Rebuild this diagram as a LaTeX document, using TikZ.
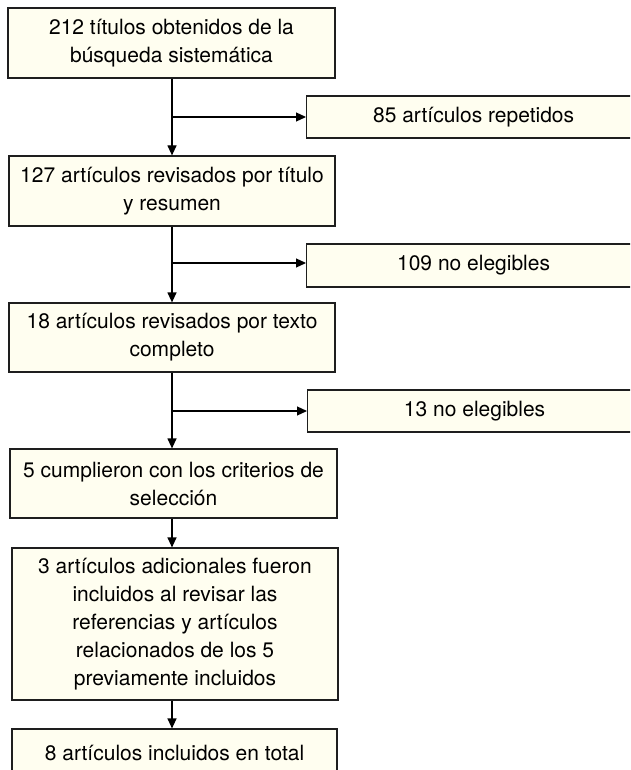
\documentclass[tikz,border=0pt]{standalone}
\usepackage{fontspec}
\setmainfont{TeX Gyre Heros}
\usetikzlibrary{arrows.meta}
\definecolor{boxfill}{RGB}{255,254,240}
\definecolor{boxline}{RGB}{30,30,30}
\begin{document}
\begin{tikzpicture}[x=1pt,y=-1pt,
  box/.style={draw=boxline,fill=boxfill,line width=1.2pt,align=center,inner sep=0pt,
    font=\fontsize{21}{28}\selectfont},
  arr/.style={line width=1.2pt,draw=black,-{Triangle[length=10pt,width=9pt]}},
  ln/.style={line width=1.2pt,draw=black}]
\useasboundingbox (0,0) rectangle (630,770);
\clip (0,0) rectangle (630,770);
\fill[white] (0,0) rectangle (630,770);
\node[box,minimum width=327pt,minimum height=70pt] (b1) at (171.5,43) {212 títulos obtenidos de la\\búsqueda sistemática};
\node[box,minimum width=334pt,minimum height=42pt,anchor=west] (r1) at (306,117) {85 artículos repetidos};
\node[box,minimum width=326pt,minimum height=70pt] (b2) at (172,191) {127 artículos revisados por título\\y resumen};
\node[box,minimum width=334pt,minimum height=43pt,anchor=west] (r2) at (306,265.5) {109 no elegibles};
\node[box,minimum width=334pt,minimum height=42pt,anchor=west] (r3) at (307,411) {13 no elegibles};
\node[box,minimum width=326pt,minimum height=69pt] (b3) at (172,337.5) {18 artículos revisados por texto\\completo};
\node[box,minimum width=327pt,minimum height=69pt] (b4) at (173.5,483.5) {5 cumplieron con los criterios de\\selección};
\node[box,minimum width=326pt,minimum height=152pt] (b5) at (175,624) {3 artículos adicionales fueron\\incluidos al revisar las\\referencias y artículos\\relacionados de los 5\\previamente incluidos};
\node[box,minimum width=325pt,minimum height=48pt] (b6) at (174.5,753) {8 artículos incluidos en total};
\coordinate (j1) at (172,117);
\coordinate (j2) at (172,263);
\coordinate (j3) at (172,411);
\draw[arr] (b1.south -| j1) -- (b2.north -| j1);
\draw[arr] (j1) -- (r1.west |- j1);
\draw[arr] (b2.south -| j2) -- (b3.north -| j2);
\draw[arr] (j2) -- (r2.west |- j2);
\draw[arr] (b3.south -| j3) -- (b4.north -| j3);
\draw[arr] (j3) -- (r3.west |- j3);
\draw[arr] (b4.south -| j3) -- (b5.north -| j3);
\draw[arr] (b5.south -| j3) -- (b6.north -| j3);
\end{tikzpicture}
\end{document}
